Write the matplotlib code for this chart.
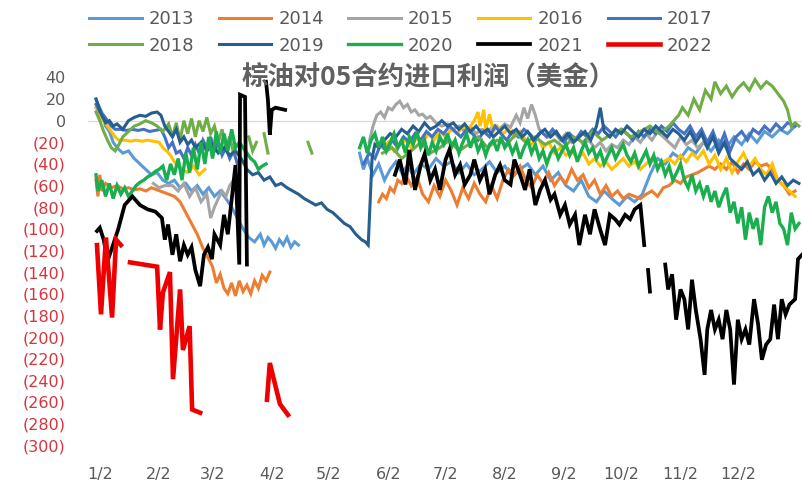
import matplotlib
matplotlib.use('Agg')
import matplotlib.pyplot as plt

plt.rcParams['font.family'] = ['DejaVu Sans', 'Noto Sans CJK SC']

# day-of-year vs profit (USD), one list per visible segment
y2013 = [
    [(0, 20), (1, 15), (3, 8), (5, -5), (7, -10), (9, -20), (11, -25), (14, -30), (17, -28), (20, -35),
     (23, -40), (26, -45), (29, -50), (32, -48), (35, -55), (38, -58), (41, -55), (44, -62), (47, -58),
     (50, -65), (53, -60), (56, -68), (59, -62), (62, -70), (65, -65), (68, -72), (71, -80), (74, -90),
     (77, -100), (80, -108), (83, -112), (86, -105), (88, -115), (90, -108), (92, -112), (94, -118),
     (96, -110), (98, -115), (100, -108), (102, -117), (104, -112), (106, -115)],
    [(138, -30), (140, -45), (142, -35), (145, -50), (148, -40), (151, -55), (154, -45), (157, -38),
     (160, -48), (163, -42), (166, -50), (170, -40), (174, -45), (178, -35), (182, -42), (186, -38),
     (190, -48), (194, -40), (198, -50), (202, -45), (206, -38), (210, -48), (214, -42), (218, -52),
     (222, -45), (226, -40), (230, -50), (234, -42), (238, -55), (242, -48), (246, -60), (250, -65),
     (254, -55), (258, -70), (262, -75), (266, -65), (270, -72), (274, -78), (278, -70), (282, -75),
     (286, -68), (290, -50), (294, -35), (298, -40), (302, -30), (306, -35), (310, -25), (314, -30),
     (318, -20), (322, -28), (326, -18), (330, -25), (334, -15), (338, -22), (342, -12), (346, -20),
     (350, -10), (354, -15), (358, -8), (362, -12), (366, -5)],
]
y2014 = [
    [(0, -55), (1, -70), (2, -50), (3, -65), (5, -58), (8, -62), (11, -60), (14, -63), (17, -62), (20, -64),
     (23, -63), (26, -65), (29, -62), (32, -64), (35, -66), (38, -68), (41, -70), (44, -75), (47, -85),
     (50, -95), (53, -105), (56, -118), (59, -128), (61, -135), (63, -150), (65, -142), (67, -155),
     (69, -160), (71, -150), (73, -162), (75, -148), (77, -158), (79, -152), (81, -160), (83, -148),
     (85, -155), (87, -143), (89, -148), (91, -140)],
    [(148, -75), (150, -68), (152, -72), (154, -62), (156, -66), (158, -55), (160, -58), (162, -50),
     (165, -60), (168, -52), (171, -68), (174, -75), (177, -60), (180, -70), (183, -55), (186, -65),
     (189, -78), (192, -62), (195, -72), (198, -58), (201, -68), (204, -75), (207, -60), (210, -72),
     (213, -55), (216, -45), (219, -50), (222, -42), (225, -55), (228, -62), (231, -50), (234, -58),
     (237, -48), (240, -60), (243, -52), (246, -58), (249, -45), (252, -55), (255, -50), (258, -62),
     (261, -55), (264, -68), (267, -60), (270, -70), (273, -65), (276, -72), (279, -68), (282, -70),
     (285, -72), (288, -68), (291, -65), (294, -70), (297, -62), (300, -60), (303, -55), (306, -58),
     (309, -52), (312, -50), (315, -48), (318, -45), (321, -42), (324, -45), (327, -40), (330, -45),
     (333, -38), (336, -48), (339, -40), (342, -45), (345, -38), (348, -42), (351, -40), (354, -45),
     (357, -55), (360, -60), (363, -68), (366, -65)],
]
y2015 = [
    [(30, -58), (33, -62), (36, -60), (40, -60), (43, -65), (46, -58), (49, -70), (52, -62), (55, -75),
     (58, -68), (60, -90), (62, -80), (64, -72), (66, -65), (68, -70), (70, -60), (72, -55)],
    [(143, -20), (145, -5), (147, 5), (149, 8), (151, 3), (153, 12), (155, 10), (157, 15), (159, 18),
     (161, 12), (163, 15), (165, 8), (167, 10), (169, 5), (171, 6), (173, 2), (175, 4), (178, -2),
     (181, -5), (184, -3), (187, -8), (190, -5), (193, -10), (196, -6), (199, -12), (202, -8),
     (205, -10), (208, -5), (211, -8), (214, -3), (217, -6), (220, 5), (222, -2), (224, 12), (226, 2),
     (228, 15), (230, 5), (232, -8), (234, -12), (237, -15), (240, -10), (243, -18), (246, -12),
     (249, -20), (252, -15), (255, -22), (258, -18), (261, -25), (264, -20), (267, -28), (270, -22),
     (273, -25), (276, -18), (279, -22), (282, -15), (285, -20), (288, -12), (291, -18), (294, -10),
     (297, -15), (300, -20), (303, -25), (306, -15), (309, -22), (312, -18), (315, -25), (318, -20)],
]
y2016 = [
    [(0, 12), (2, 5), (4, 0), (6, -5), (8, -10), (10, -15), (12, -18), (15, -18), (18, -19), (21, -18),
     (24, -19), (27, -18), (30, -19), (33, -20), (35, -25), (37, -28), (39, -32), (41, -38), (43, -42),
     (45, -45), (48, -48), (51, -42), (54, -50), (57, -45)],
    [(150, -25), (153, -20), (156, -28), (159, -22), (162, -18), (165, -25), (168, -15), (171, -20),
     (174, -12), (177, -18), (180, -10), (183, -15), (186, -8), (189, -12), (192, -5), (195, -8),
     (198, 0), (200, 8), (201, -5), (203, 10), (204, -8), (206, 6), (208, -10), (210, -5), (213, -12),
     (216, -8), (219, -15), (222, -10), (225, -18), (228, -22), (231, -15), (234, -25), (237, -20),
     (240, -30), (243, -25), (246, -32), (249, -28), (252, -35), (255, -30), (258, -40), (261, -35),
     (264, -42), (267, -38), (270, -45), (273, -40), (276, -35), (279, -42), (282, -38), (285, -45),
     (288, -40), (291, -35), (294, -42), (297, -38), (300, -35), (303, -40), (306, -32), (309, -38),
     (312, -30), (315, -35), (318, -28), (321, -40), (324, -32), (327, -45), (330, -35), (333, -48),
     (336, -38), (339, -30), (342, -42), (345, -35), (348, -45), (351, -50), (354, -40), (357, -55),
     (360, -60), (363, -65), (366, -70)],
]
y2017 = [
    [(0, 15), (2, 8), (4, 5), (6, 0), (8, -5), (10, -8), (13, -8), (16, -9), (19, -8), (22, -9), (25, -8),
     (28, -10), (31, -9), (34, -8), (36, -15), (38, -25), (40, -20), (42, -30), (44, -28), (46, -35),
     (48, -25), (50, -32), (52, -22), (54, -30), (56, -18), (58, -25), (60, -15), (62, -28), (64, -20),
     (66, -32), (68, -25), (70, -35), (72, -28), (74, -40)],
    [(140, -40), (143, -30), (146, -35), (149, -22), (152, -28), (155, -18), (158, -25), (161, -15),
     (164, -20), (167, -12), (170, -18), (173, -10), (176, -15), (179, -8), (182, -12), (185, -5),
     (188, -10), (191, -15), (194, -8), (197, -12), (200, -18), (203, -10), (206, -15), (209, -5),
     (212, -12), (215, -18), (218, -10), (221, -15), (224, -8), (227, -12), (230, -18), (233, -10),
     (236, -15), (239, -8), (242, -14), (245, -20), (248, -12), (251, -18), (254, -10), (257, -15),
     (260, -8), (263, -12), (266, -5), (269, -10), (272, -15), (275, -8), (278, -12), (281, -18),
     (284, -10), (287, -15), (290, -8), (293, -12), (296, -5), (299, -10), (302, -2), (305, -8),
     (308, -12), (311, -5), (314, -15), (317, -8), (320, -20), (323, -10), (326, -25), (329, -12),
     (332, -28), (335, -15), (338, -10), (341, -18), (344, -8), (347, -12), (350, -5), (353, -10),
     (356, -3), (359, -8), (362, -2), (366, -5)],
]
y2018 = [
    [(0, 8), (2, 0), (4, -10), (6, -18), (8, -25), (10, -28), (12, -22), (14, -15), (17, -10), (20, -5),
     (23, -3), (26, 0), (29, -2), (32, -5), (35, -10), (38, -3), (40, -15), (42, -2), (44, -18), (46, 0),
     (48, -12), (50, 2), (52, -15), (54, 0), (56, -10), (58, 3), (60, -12), (62, -5), (64, -20),
     (66, -8), (68, -25), (70, -15), (72, -30)],
    [(80, -15), (82, -28), (84, -20)],
    [(88, -12), (90, -30)],
    [(111, -20), (113, -30)],
    [(150, -30), (155, -25), (160, -35), (165, -28), (170, -20), (175, -30), (180, -25), (185, -18),
     (190, -28), (195, -22), (200, -15), (205, -25), (210, -18), (215, -22), (220, -12), (225, -20),
     (230, -15), (235, -22), (240, -18), (245, -25), (250, -15), (255, -20), (260, -10), (265, -18),
     (270, -12), (275, -8), (280, -15), (285, -10), (290, -5), (295, -12), (300, -5), (305, 5),
     (307, 12), (310, 5), (313, 20), (316, 10), (319, 28), (322, 20), (324, 36), (327, 25), (330, 32),
     (333, 22), (336, 30), (339, 35), (342, 28), (345, 38), (348, 30), (351, 36), (354, 32), (357, 25),
     (360, 18), (362, 10), (364, -5), (366, -2), (368, -5)],
]
y2019 = [
    [(0, 20), (1, 15), (3, 5), (5, -2), (7, 0), (9, -5), (11, -3), (14, -8), (17, 0), (20, 3), (23, 5),
     (26, 4), (29, 7), (32, 8), (34, 5), (36, -5), (38, -10), (40, -15), (42, -8), (44, -20), (46, -15),
     (48, -22), (50, -18), (52, -25), (55, -20), (58, -28), (61, -22), (64, -30), (67, -25), (70, -32),
     (73, -28), (76, -35), (79, -45), (82, -50), (85, -48), (88, -55), (91, -52), (94, -60), (97, -58),
     (100, -62), (103, -65), (106, -68), (109, -72), (112, -75), (115, -78), (118, -76), (121, -82),
     (124, -85), (127, -90), (130, -95), (133, -98), (136, -105), (139, -110), (141, -112),
     (142.5, -115), (144.5, -35), (146, -22), (148, -25), (151, -18), (154, -12), (157, -15),
     (160, -8), (163, -12), (166, -5), (169, -10), (172, -2), (175, -8), (178, -5), (181, 0), (184, -5),
     (187, -2), (190, -8), (193, -3), (196, -10), (199, -5), (202, -12), (205, -8), (208, -15),
     (211, -10), (214, -5), (217, -12), (220, -8), (223, -15), (226, -10), (229, -18), (232, -12),
     (235, -8), (238, -15), (241, -10), (244, -18), (247, -12), (250, -20), (253, -15), (256, -10),
     (259, -18), (262, -5), (264, 12), (266, -10), (269, -15), (272, -8), (275, -12), (278, -5),
     (281, -10), (284, -15), (287, -8), (290, -12), (293, -5), (296, -10), (299, -15), (302, -8),
     (305, -12), (308, -18), (311, -10), (314, -20), (317, -12), (320, -25), (323, -15), (326, -30),
     (329, -20), (332, -35), (335, -40), (338, -45), (341, -38), (344, -50), (347, -45), (350, -55),
     (353, -48), (356, -58), (359, -52), (362, -60), (365, -55), (368, -58)],
]
y2020 = [
    [(0, -50), (1, -65), (3, -55), (5, -70), (7, -58), (9, -72), (11, -60), (13, -68), (15, -62),
     (17, -70), (19, -65), (21, -60), (23, -57), (25, -55), (27, -52), (29, -50), (31, -47), (33, -45),
     (35, -42), (37, -55), (39, -40), (41, -50), (43, -35), (45, -55), (47, -30), (49, -48), (51, -25),
     (53, -45), (55, -20), (57, -40), (59, -15), (61, -35), (63, -10), (65, -30), (67, -12), (69, -28),
     (71, -8), (73, -25), (75, -20), (77, -25), (79, -30), (81, -35), (83, -38), (85, -45), (87, -42),
     (89, -40)],
    [(138, -25), (140, -15), (142, -30), (144, -18), (146, -12), (148, -25), (150, -15), (152, -28),
     (154, -20), (156, -12), (158, -25), (160, -18), (162, -30), (164, -15), (166, -22), (168, -10),
     (170, -25), (172, -18), (174, -32), (176, -20), (178, -28), (180, -15), (182, -22), (184, -12),
     (186, -25), (188, -18), (190, -30), (192, -20), (194, -12), (196, -25), (198, -15), (200, -28),
     (202, -20), (204, -32), (206, -22), (208, -18), (210, -28), (212, -15), (214, -25), (216, -20),
     (218, -30), (220, -22), (222, -35), (224, -25), (226, -18), (228, -30), (230, -22), (232, -35),
     (234, -28), (236, -40), (238, -30), (240, -25), (242, -35), (244, -28), (246, -22), (248, -32),
     (250, -25), (252, -38), (254, -28), (256, -20), (258, -30), (260, -25), (262, -35), (264, -28),
     (266, -40), (268, -32), (270, -25), (272, -35), (274, -28), (276, -22), (278, -32), (280, -38),
     (282, -30), (284, -42), (286, -35), (288, -28), (290, -40), (292, -32), (294, -45), (296, -38),
     (298, -50), (300, -42), (302, -55), (304, -48), (306, -40), (308, -55), (310, -62), (312, -50),
     (314, -65), (316, -58), (318, -70), (320, -60), (322, -75), (324, -65), (326, -80), (328, -70),
     (330, -62), (332, -85), (334, -75), (336, -95), (338, -80), (340, -110), (342, -85), (344, -100),
     (346, -90), (348, -115), (350, -80), (352, -70), (354, -85), (356, -75), (358, -95), (360, -100),
     (362, -115), (364, -85), (366, -100), (368, -95)],
]
y2021 = [
    [(0.5, -102), (2, -99), (4, -110), (6, -130), (8.5, -117), (11.5, -101), (15, -78), (19, -70),
     (23, -78), (27, -82), (31, -84), (34.5, -90), (36, -110), (37.7, -96), (40, -124), (42, -105),
     (44, -130), (46, -115), (48, -124), (50, -117), (52, -138), (54.5, -153), (56.5, -124),
     (58.6, -117), (60.7, -128), (62, -105), (65, -115), (67, -87), (69, -105), (71, -73), (73, -41),
     (75, -133), (75.4, 24), (78, 22), (79, -133)],
    [(89, 36), (90, 19), (91, -13), (92, 10), (94, 12), (99, 10)],
    [(156.5, -50), (159, -36), (162, -59), (164, -27), (167, -64), (170, -41), (172, -31), (175, -55),
     (177.5, -45), (180, -64), (183, -36), (185, -27), (188, -50), (190.6, -41), (193, -59), (196, -50),
     (198, -36), (201, -55), (203.7, -45), (206, -68), (209, -50), (211.5, -41), (214, -55), (217, -59),
     (219, -36), (222, -50), (224.6, -64), (227, -45), (230, -78), (232.5, -64), (235, -55), (238, -73),
     (240, -68), (243, -87), (245.5, -78), (248, -96), (250.8, -87), (253, -115), (256, -87),
     (258.6, -105), (261, -82), (264, -101), (266.5, -115), (269, -87), (271.7, -91), (274, -96),
     (277, -87), (279.6, -91), (282, -82), (285, -78), (287, -115)],
    [(289, -138), (290, -158)],
    [(298, -133), (299.5, -156), (301.6, -142), (303.7, -184), (306, -156), (308, -165), (310, -193),
     (312, -147), (314, -175), (316.5, -202), (318.6, -235), (320, -193), (322, -175), (324, -193),
     (326, -184), (328, -202), (330, -175), (332, -193), (334, -244), (336, -184), (338, -202),
     (340, -193), (342, -207), (344.5, -165), (346.6, -188), (348.6, -221), (350.8, -207), (353, -202),
     (355, -170), (357, -202), (359, -165), (361, -179), (363, -170), (366, -165), (367.5, -128),
     (369.6, -124)],
]
y2022 = [
    [(0.5, -115), (2.6, -179), (5.2, -108), (8.4, -182), (10.5, -110), (13, -115)],
    [(17.8, -131), (32, -135), (33.5, -193), (35, -159), (38.7, -140), (40.3, -239), (44, -156),
     (45.5, -212), (49, -190), (50.3, -267), (54.5, -270)],
    [(89.5, -258), (91, -224), (93.2, -240), (96.3, -262), (100.5, -272)],
]

years = ['2013', '2014', '2015', '2016', '2017', '2018', '2019', '2020', '2021', '2022']
series = [y2013, y2014, y2015, y2016, y2017, y2018, y2019, y2020, y2021, y2022]
colors = ['#5B9BD5', '#ED7D31', '#A5A5A5', '#FFC000', '#4472C4',
          '#70AD47', '#255E91', '#1AAE4E', '#000000', '#EE0000']
widths = [2.2, 2.2, 2.2, 2.2, 2.2, 2.2, 2.2, 2.4, 2.7, 3.3]

tick_days = [2, 33, 61, 92, 122, 153, 183, 214, 245, 275, 306, 336]
tick_names = ['1/2', '2/2', '3/2', '4/2', '5/2', '6/2', '7/2', '8/2', '9/2', '10/2', '11/2', '12/2']
y_ticks = list(range(40, -301, -20))

fig = plt.figure(figsize=(8.02, 4.82), dpi=100)
ax = fig.add_axes([88 / 802, 1 - 456 / 482, 714 / 802, 384 / 482])

ax.axhline(0, color='#D9D9D9', linewidth=0.9, zorder=0)

handles = {}
for name, segs, c, lw in zip(years, series, colors, widths):
    for i, seg in enumerate(segs):
        xs = [p[0] for p in seg]
        ys = [p[1] for p in seg]
        line, = ax.plot(xs, ys, color=c, linewidth=lw, solid_joinstyle='miter')
        if i == 0:
            handles[name] = line

ax.set_xlim(-4.2, 369.6)
ax.set_ylim(-310, 45)
for s in ax.spines.values():
    s.set_visible(False)

ax.set_xticks(tick_days)
ax.set_xticklabels(tick_names, fontsize=11.5, color='#595959')
ax.set_yticks(y_ticks)
ax.set_yticklabels([str(v) if v >= 0 else '(%d)' % -v for v in y_ticks], fontsize=11.5)
for lab, v in zip(ax.get_yticklabels(), y_ticks):
    lab.set_color('#595959' if v >= 0 else '#D8343C')
ax.tick_params(axis='both', length=0)
ax.tick_params(axis='y', pad=16)
ax.tick_params(axis='x', pad=8)

fig.text(429 / 802, 1 - 78 / 482, '棕油对05合约进口利润（美金）', ha='center', va='center',
         fontsize=19, fontweight='bold', color='#606060',
         family=['Noto Sans CJK SC', 'DejaVu Sans'])

# legend fills column by column, so interleave the two rows
order = ['2013', '2018', '2014', '2019', '2015', '2020', '2016', '2021', '2017', '2022']
fig.legend([handles[k] for k in order], order,
           loc='center', bbox_to_anchor=(401 / 802, 1 - 32.5 / 482), ncol=5, frameon=False,
           fontsize=13, handlelength=2.9, handletextpad=0.4, columnspacing=1.35,
           labelspacing=0.45, borderaxespad=0, borderpad=0, labelcolor='#595959')

fig.savefig('out.png', dpi=100, facecolor='white')
